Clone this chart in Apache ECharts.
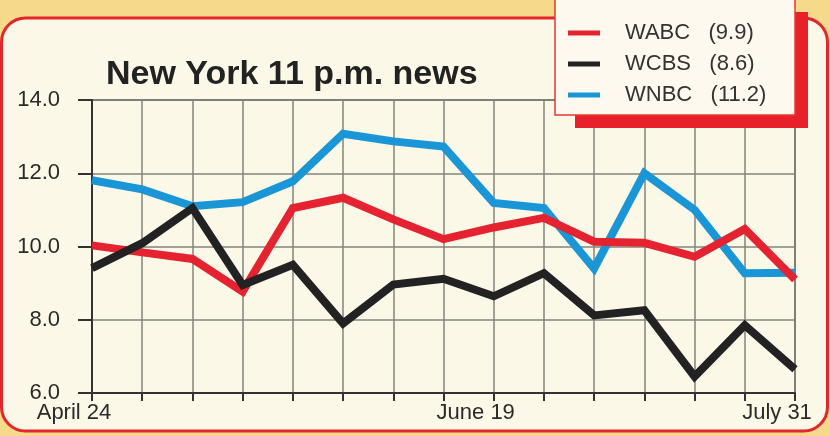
<!DOCTYPE html>
<html>
<head>
<meta charset="utf-8">
<script src="https://cdn.jsdelivr.net/npm/echarts@6/dist/echarts.min.js"></script>
<style>
  html, body { margin: 0; padding: 0; background: #f6d98b; }
  #chart { width: 830px; height: 436px; }
</style>
</head>
<body>
<div id="chart"></div>
<script>
// ---- data ----
const categories = ['April 24','May 1','May 8','May 15','May 22','May 29','June 5','June 12','June 19','June 26','July 3','July 10','July 17','July 24','July 31'];
const shownTickLabels = ['April 24', 'June 19', 'July 31'];
const seriesNames = ['WABC', 'WCBS', 'WNBC'];
const seasonAverages = ['9.9', '8.6', '11.2'];
const wabc = [10.03, 9.84, 9.66, 8.77, 11.05, 11.33, 10.74, 10.2, 10.52, 10.78, 10.13, 10.1, 9.72, 10.48, 9.1];
const wcbs = [9.41, 10.09, 11.05, 8.95, 9.5, 7.9, 8.96, 9.12, 8.64, 9.27, 8.12, 8.26, 6.45, 7.85, 6.65];
const wnbc = [11.81, 11.56, 11.1, 11.21, 11.78, 13.08, 12.87, 12.73, 11.19, 11.05, 9.4, 12.0, 11.0, 9.27, 9.28];
const yTicks = { min: 6, max: 14, interval: 2 };

const colors = { WABC: '#e5222f', WCBS: '#222222', WNBC: '#1a96d6' };
const font = "'Liberation Sans', Arial, Helvetica, sans-serif";

const chart = echarts.init(document.getElementById('chart'), null, { renderer: 'canvas' });

function lineSeries(name, data) {
  return {
    name: name,
    type: 'line',
    data: data,
    showSymbol: false,
    symbol: 'none',
    smooth: false,
    color: colors[name],
    lineStyle: { width: 8, color: colors[name], join: 'miter', cap: 'butt' },
    emphasis: { disabled: true },
    animation: false
  };
}

const avgOf = {};
seriesNames.forEach((n, i) => { avgOf[n] = seasonAverages[i]; });

chart.setOption({
  animation: false,
  backgroundColor: '#f6d98b',
  title: {
    text: 'New York 11 p.m. news',
    left: 106, top: 58,
    padding: 0,
    textStyle: { fontFamily: font, fontSize: 34, fontWeight: 'bold', color: '#222' }
  },
  graphic: [
    { type: 'rect', z: -5, shape: { x: 1.5, y: 18, width: 826, height: 413, r: 24 },
      style: { fill: '#fcf8e8', stroke: '#e3262c', lineWidth: 3 } },
    { type: 'rect', z: 10, shape: { x: 575, y: 12, width: 233, height: 116 },
      style: { fill: '#e8202a' } },
    { type: 'rect', z: 11, shape: { x: 555, y: -2, width: 240, height: 117 },
      style: { fill: '#fdf9ee', stroke: '#e8382e', lineWidth: 1.5 } }
  ],
  legend: {
    data: seriesNames,
    orient: 'vertical',
    left: 568, top: 22,
    z: 20,
    padding: 0,
    itemGap: 9,
    itemWidth: 32, itemHeight: 5,
    icon: 'rect',
    selectedMode: false,
    formatter: name => name + '   (' + avgOf[name] + ')',
    textStyle: { fontFamily: font, fontSize: 22, color: '#333', lineHeight: 22, padding: [0, 0, 0, 20] }
  },
  grid: {
    left: 92, right: 35, top: 100, bottom: 43,
    show: true, borderColor: '#444', borderWidth: 1.5, backgroundColor: 'transparent'
  },
  xAxis: {
    type: 'category',
    data: categories,
    boundaryGap: false,
    axisLine: { show: true, lineStyle: { color: '#333', width: 2 } },
    axisTick: { show: true, interval: 0, length: 8, lineStyle: { color: '#333', width: 2 } },
    splitLine: { show: true, interval: 0, lineStyle: { color: '#85857d', width: 1.5 } },
    axisLabel: {
      interval: (idx, val) => shownTickLabels.indexOf(val) >= 0,
      margin: 9,
      fontFamily: font, fontSize: 22, color: '#2a2a2a',
      padding: [0, 36, 0, 0]
    }
  },
  yAxis: {
    type: 'value',
    min: yTicks.min, max: yTicks.max, interval: yTicks.interval,
    axisLine: { show: true, lineStyle: { color: '#333', width: 2 } },
    axisTick: { show: true, length: 14, lineStyle: { color: '#333', width: 2 } },
    splitLine: { show: true, lineStyle: { color: '#85857d', width: 1.5 } },
    axisLabel: {
      margin: 32,
      fontFamily: font, fontSize: 22, color: '#2a2a2a',
      formatter: v => v.toFixed(1)
    }
  },
  series: [
    lineSeries('WNBC', wnbc),
    lineSeries('WABC', wabc),
    lineSeries('WCBS', wcbs)
  ]
});
</script>
</body>
</html>
